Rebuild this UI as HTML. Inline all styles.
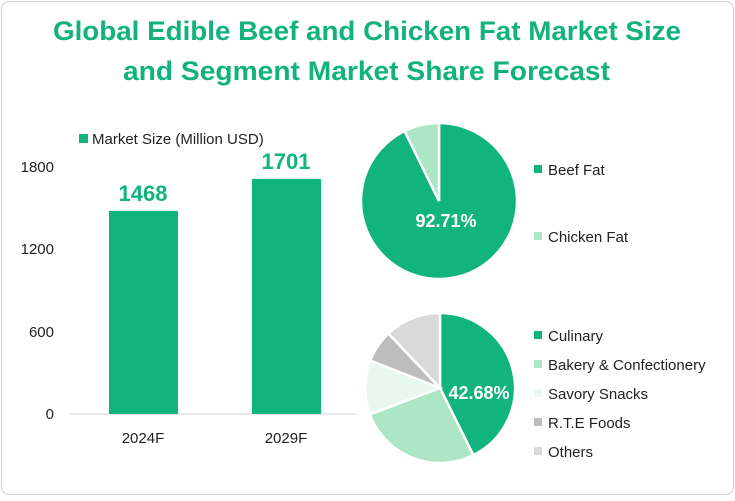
<!DOCTYPE html>
<html><head><meta charset="utf-8"><style>
body{margin:0;background:#fff;}
#c{position:relative;width:735px;height:496px;font-family:"Liberation Sans",sans-serif;}
</style></head><body><div id="c">
<svg width="735" height="496" xmlns="http://www.w3.org/2000/svg" font-family="Liberation Sans, sans-serif">
<rect x="1.5" y="1.5" width="732" height="493" rx="8" fill="#fff" stroke="#d0d0d0"/>
<text x="53" y="40" textLength="628" lengthAdjust="spacingAndGlyphs" font-size="27" font-weight="bold" fill="#12b37a">Global Edible Beef and Chicken Fat Market Size</text>
<text x="123" y="80" textLength="487" lengthAdjust="spacingAndGlyphs" font-size="27" font-weight="bold" fill="#12b37a">and Segment Market Share Forecast</text>
<rect x="79" y="134" width="9" height="9" fill="#10b47c"/>
<text x="92" y="144" font-size="15" fill="#222">Market Size (Million USD)</text>
<g font-size="15" fill="#222" text-anchor="end">
<text x="54" y="172">1800</text><text x="54" y="254">1200</text><text x="54" y="337">600</text><text x="54" y="419">0</text></g>
<line x1="70" y1="414" x2="356" y2="414" stroke="#d0d0d0"/>
<rect x="109" y="211" width="69" height="203" fill="#10b47c"/>
<rect x="252" y="179" width="69" height="235" fill="#10b47c"/>
<g font-size="22" font-weight="bold" fill="#10b47c" text-anchor="middle">
<text x="143" y="201">1468</text><text x="286" y="169">1701</text></g>
<g font-size="15" fill="#222" text-anchor="middle"><text x="143" y="443">2024F</text><text x="286" y="443">2029F</text></g>
<g id="p1"></g><g id="p2"></g>
<text x="446" y="227" font-size="18" font-weight="bold" fill="#fff" text-anchor="middle">92.71%</text>
<text x="479" y="399" font-size="18" font-weight="bold" fill="#fff" text-anchor="middle">42.68%</text>
<g font-size="15" fill="#222">
<rect x="534" y="165" width="8" height="8" fill="#10b47c"/><text x="548" y="175">Beef Fat</text>
<rect x="534" y="232" width="8" height="8" fill="#ace6c4"/><text x="548" y="242">Chicken Fat</text>
<rect x="534" y="331" width="8" height="8" fill="#10b47c"/><text x="548" y="341">Culinary</text>
<rect x="534" y="360" width="8" height="8" fill="#ace6c4"/><text x="548" y="370">Bakery &amp; Confectionery</text>
<rect x="534" y="389" width="8" height="8" fill="#e8f8ee"/><text x="548" y="399">Savory Snacks</text>
<rect x="534" y="418" width="8" height="8" fill="#bdbdbd"/><text x="548" y="428">R.T.E Foods</text>
<rect x="534" y="447" width="8" height="8" fill="#d9d9d9"/><text x="548" y="457">Others</text>
</g>
</svg>
<script>
function pie(id,cx,cy,r,sl){var g=document.getElementById(id),s="";
for(var i=0;i<sl.length;i++){var a=sl[i][0]*Math.PI/180,b=sl[i][1]*Math.PI/180;
var x1=cx+r*Math.sin(a),y1=cy-r*Math.cos(a),x2=cx+r*Math.sin(b),y2=cy-r*Math.cos(b);
var l=(sl[i][1]-sl[i][0])>180?1:0;
s+='<path d="M'+cx+','+cy+' L'+x1+','+y1+' A'+r+','+r+' 0 '+l+' 1 '+x2+','+y2+' Z" fill="'+sl[i][2]+'" stroke="#fff" stroke-width="2.5"/>';}
g.innerHTML=s;}
pie("p1",439,201,78,[[0,333.8,"#10b47c"],[333.8,360,"#ace6c4"]]);
pie("p2",440,388,75,[[0,153.6,"#10b47c"],[153.6,249.4,"#ace6c4"],[249.4,291.5,"#e8f8ee"],[291.5,316.6,"#bdbdbd"],[316.6,360,"#d9d9d9"]]);
</script>
</div></body></html>
